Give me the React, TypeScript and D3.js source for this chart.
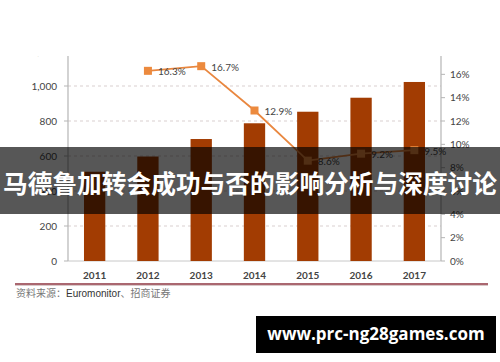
import React from "react";
import * as d3 from "d3";

const years = ["2011", "2012", "2013", "2014", "2015", "2016", "2017"];
const sales = [510, 597, 697, 787, 853, 933, 1023];
const growthYears = ["2012", "2013", "2014", "2015", "2016", "2017"];
const growth = [16.3, 16.7, 12.9, 8.6, 9.2, 9.5];
const leftTicks = [0, 200, 400, 600, 800, 1000, 1200];
const rightTicks = [0, 2, 4, 6, 8, 10, 12, 14, 16, 18];
const bannerText = "马德鲁加转会成功与否的影响分析与深度讨论";
const sourceCn1 = "资料来源：";
const sourceEn = "Euromonitor";
const sourceCn2 = "、招商证券";
const watermark = "www.prc-ng28games.com";

const W = 500;
const H = 362;
const left = 68;
const right = 441;
const top = 51;
const bottom = 261;
const clipTop = 56;

export default function App() {
  const x = d3.scaleBand<string>().domain(years).range([left, right]).paddingInner(0.6).paddingOuter(0.3);
  const yL = d3.scaleLinear().domain([0, 1200]).range([bottom, top]);
  const yR = d3.scaleLinear().domain([0, 18]).range([bottom, top]);
  const cx = (y: string) => (x(y) as number) + x.bandwidth() / 2;
  const line = d3
    .line<number>()
    .x((_, i) => cx(growthYears[i]))
    .y((d) => yR(d));
  const font = "Lato, 'Liberation Sans', sans-serif";
  const ms = 8;
  return (
    <svg
      width={W}
      height={H}
      style={{ position: "absolute", left: 0, top: 0, background: "#fff" }}
    >
      <defs>
        <clipPath id="c">
          <rect x={0} y={clipTop} width={W} height={H - clipTop} />
        </clipPath>
      </defs>
      <rect x={0} y={0} width={W} height={H} fill="#fff" />
      <g clipPath="url(#c)">
        {leftTicks.filter((t) => t > 0).map((t) => (
          <line
            key={"g" + t}
            x1={left}
            x2={right}
            y1={yL(t)}
            y2={yL(t)}
            stroke="#d9cfcf"
            strokeDasharray="3,3"
            strokeWidth={1}
          />
        ))}
        <line x1={left} x2={right} y1={bottom} y2={bottom} stroke="#c8c8c8" />
        <line x1={left} x2={left} y1={clipTop} y2={bottom} stroke="#b5b5b5" strokeWidth={1.2} />
        <line x1={right} x2={right} y1={clipTop} y2={bottom} stroke="#b5b5b5" strokeWidth={1.2} />
        {leftTicks.map((t) => (
          <g key={"l" + t}>
            <line x1={left - 4} x2={left} y1={yL(t)} y2={yL(t)} stroke="#b5b5b5" />
            <text
              x={left - 11}
              y={yL(t)}
              dy="0.35em"
              textAnchor="end"
              fontSize={10}
              fill="#444"
              fontFamily={font}
            >
              {d3.format(",")(t)}
            </text>
          </g>
        ))}
        {rightTicks.map((t) => (
          <g key={"r" + t}>
            <line x1={right} x2={right + 4} y1={yR(t)} y2={yR(t)} stroke="#b5b5b5" />
            <text
              x={right + 9}
              y={yR(t)}
              dy="0.35em"
              textAnchor="start"
              fontSize={10}
              fill="#444"
              fontFamily={font}
            >
              {t + "%"}
            </text>
          </g>
        ))}
        {years.map((y, i) => (
          <rect
            key={"b" + y}
            x={x(y)}
            y={yL(sales[i])}
            width={x.bandwidth()}
            height={bottom - yL(sales[i])}
            fill="#A23C02"
          />
        ))}
        {years.map((y) => (
          <text
            key={"t" + y}
            x={cx(y)}
            y={275}
            dy="0.35em"
            textAnchor="middle"
            fontSize={10}
            fontWeight="bold"
            fill="#444"
            fontFamily={font}
          >
            {y}
          </text>
        ))}
        <path d={line(growth) || ""} fill="none" stroke="#E9873F" strokeWidth={1.8} />
        {growth.map((g, i) => (
          <rect
            key={"m" + i}
            x={cx(growthYears[i]) - ms / 2}
            y={yR(g) - ms / 2}
            width={ms}
            height={ms}
            fill="#EC8A3E"
          />
        ))}
        {growth.map((g, i) => (
          <text
            key={"v" + i}
            x={cx(growthYears[i]) + 10}
            y={yR(g) + 1}
            dy="0.35em"
            fontSize={10}
            fill="#444"
            fontFamily={font}
          >
            {g.toFixed(1) + "%"}
          </text>
        ))}
      </g>
      <line x1={15} x2={488} y1={284} y2={284} stroke="#8E3440" strokeWidth={1.5} />
      <line x1={15} x2={488} y1={285.5} y2={285.5} stroke="#d8c8c8" strokeWidth={1} />
      <text x={16} y={297} fontSize={10}>
        <tspan fill="#777" fontFamily="'Noto Sans CJK SC', sans-serif">{sourceCn1}</tspan>
        <tspan fill="#333" fontFamily="'Liberation Sans', sans-serif">{sourceEn}</tspan>
        <tspan fill="#777" fontFamily="'Noto Sans CJK SC', sans-serif">{sourceCn2}</tspan>
      </text>
      <rect x={0} y={147} width={W} height={67} fill="rgba(0,0,0,0.66)" />
      <text
        x={3}
        y={184}
        dy="0.35em"
        fontSize={24.7}
        fontWeight="bold"
        fill="#fff"
        fontFamily="'Noto Sans CJK SC', sans-serif"
        textLength={494}
        lengthAdjust="spacingAndGlyphs"
      >
        {bannerText}
      </text>
      <rect x={256} y={316} width={240} height={37} fill="#000" />
      <text
        x={376}
        y={334.5}
        dy="0.35em"
        textAnchor="middle"
        fontSize={17}
        fontWeight="bold"
        fill="#fff"
        fontFamily="'Open Sans', 'DejaVu Sans', sans-serif"
      >
        {watermark}
      </text>
    </svg>
  );
}
